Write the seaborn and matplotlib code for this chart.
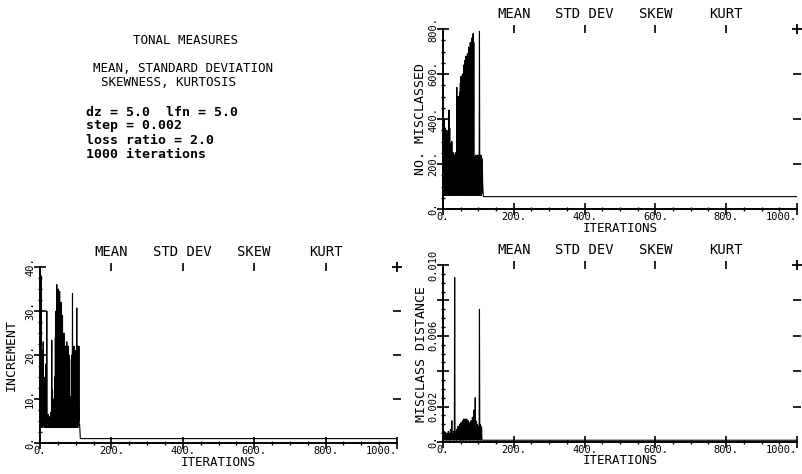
import numpy as np
import pandas as pd
import matplotlib
matplotlib.use("Agg")
import matplotlib.pyplot as plt
import seaborn as sns
from matplotlib.ticker import MultipleLocator

# ---- data: per-iteration values for the first ~110 iterations, then a flat tail ----
misclassed = [
    380, 70, 400, 60, 350, 90, 360, 60, 320, 75, 350, 60, 300, 80, 330, 60,
    440, 70, 360, 60, 290, 80, 260, 60, 300, 70, 240, 60, 250, 80, 230, 60,
    240, 70, 250, 60, 230, 80, 540, 60, 420, 70, 500, 60, 470, 90, 520, 60,
    560, 80, 590, 60, 540, 70, 600, 60, 580, 90, 640, 60, 660, 80, 620, 60,
    680, 70, 650, 60, 690, 90, 670, 60, 720, 80, 700, 60, 740, 70, 710, 60,
    760, 90, 730, 60, 780, 70, 740, 60, 230, 80, 220, 60, 240, 70, 230, 60,
    220, 80, 240, 60, 230, 70, 790, 60, 230, 80, 240, 60, 230, 70, 220, 120,
]
misclassed_tail = 55

increment = [
    39, 4, 38, 3.5, 20, 5, 21, 3.5, 23, 4, 15, 6, 8, 3.5, 12, 5,
    18, 3.5, 30, 4, 6, 3.5, 6.5, 5, 6, 3.5, 5.5, 4, 6, 3.5, 7, 4.5,
    23.4, 3.5, 12, 5, 8, 3.5, 10, 4, 15, 3.5, 24, 5, 30, 3.5, 36, 4,
    33, 3.5, 35, 5, 30, 3.5, 34.5, 4, 28, 3.5, 32, 5, 26, 3.5, 29, 4,
    22, 3.5, 25, 5, 21, 3.5, 22, 4, 20, 3.5, 23, 5, 21, 3.5, 22, 4,
    20, 3.5, 19, 5, 10.5, 3.5, 10, 4, 20, 3.5, 34, 5, 19, 3.5, 22, 4,
    20, 3.5, 21, 5, 19, 3.5, 30.7, 4, 22, 3.5, 21, 5, 22, 4, 4.2,
]
increment_tail = 1.0

distance = [
    0.00045, 0.0001, 0.0006, 0.00015, 0.0005, 0.0001, 0.00055, 0.0002,
    0.0004, 0.0001, 0.0005, 0.00015, 0.00035, 0.0001, 0.0006, 0.0002,
    0.0004, 0.0001, 0.0005, 0.00015, 0.0007, 0.0001, 0.0005, 0.0002,
    0.0012, 0.0001, 0.0004, 0.00015, 0.0005, 0.0001, 0.0006, 0.0002,
    0.0093, 0.0001, 0.0005, 0.00015, 0.0006, 0.0001, 0.0007, 0.0002,
    0.0008, 0.0001, 0.0009, 0.00015, 0.0008, 0.0001, 0.001, 0.0002,
    0.0009, 0.0001, 0.0011, 0.00015, 0.001, 0.0001, 0.0012, 0.0002,
    0.0011, 0.0001, 0.0013, 0.00015, 0.0012, 0.0001, 0.0013, 0.0002,
    0.0012, 0.0001, 0.0013, 0.00015, 0.0011, 0.0001, 0.0012, 0.0002,
    0.001, 0.0001, 0.0011, 0.00015, 0.0009, 0.0001, 0.0012, 0.0002,
    0.0011, 0.0001, 0.0014, 0.00015, 0.0012, 0.0001, 0.0018, 0.0002,
    0.0015, 0.0001, 0.0025, 0.00015, 0.0012, 0.0001, 0.0009, 0.0002,
    0.001, 0.0001, 0.0008, 0.00015, 0.0009, 0.0001, 0.0075, 0.0002,
    0.001, 0.0001, 0.0009, 0.00015, 0.0008, 0.0001,
]
distance_tail = 0.0001

last_iteration = 1000

x_ticks = [0, 200, 400, 600, 800, 1000]
x_tick_labels = ["0.", "200.", "400.", "600.", "800.", "1000."]
measure_ticks = [200, 400, 600, 800]
measure_labels = ["MEAN", "STD DEV", "SKEW", "KURT"]

misclassed_yticks = [0, 200, 400, 600, 800]
misclassed_ylabels = ["0.", "200.", "400.", "600.", "800."]
increment_yticks = [0, 10, 20, 30, 40]
increment_ylabels = ["0.", "10.", "20.", "30.", "40."]
distance_yticks = [0, 0.002, 0.004, 0.006, 0.008, 0.010]
distance_ylabels = ["0.", "0.002", "", "0.006", "", "0.010"]

header_lines = ["TONAL MEASURES", "MEAN, STANDARD DEVIATION", "SKEWNESS, KURTOSIS"]
param_lines = ["dz = 5.0  lfn = 5.0", "step = 0.002", "loss ratio = 2.0", "1000 iterations"]

# ---- style ----
sns.set_theme(style="white")
MONO = ["DejaVu Sans Mono"]
plt.rcParams["font.family"] = MONO
plt.rcParams["text.color"] = "black"
plt.rcParams["axes.labelcolor"] = "black"
plt.rcParams["xtick.color"] = "black"
plt.rcParams["ytick.color"] = "black"
# keep every zigzag vertex of the dense traces
plt.rcParams["path.simplify"] = False

W, H = 802, 474
fig = plt.figure(figsize=(W / 100, H / 100), dpi=100)
fig.patch.set_facecolor("white")


def px_rect(x0, x1, y_top, y_bot):
    return [x0 / W, 1 - y_bot / H, (x1 - x0) / W, (y_bot - y_top) / H]


def panel(rect, values, tail, yticks, ylabels, yminor, ylabel, ylab_dx):
    ax = fig.add_axes(rect)
    n = len(values)
    df = pd.DataFrame({
        "iteration": list(range(1, n + 1)) + [n + 2, last_iteration],
        "value": list(values) + [tail, tail],
    })
    sns.lineplot(data=df, x="iteration", y="value", ax=ax, color="black",
                 linewidth=0.8, estimator=None)
    ax.set_xlim(0, last_iteration)
    ax.set_ylim(yticks[0], yticks[-1])
    ax.set_facecolor("white")
    sns.despine(ax=ax)
    for side in ("left", "bottom"):
        ax.spines[side].set_color("black")
        ax.spines[side].set_linewidth(1.4)

    ax.set_xticks(x_ticks, x_tick_labels)
    ax.get_xticklabels()[-1].set_horizontalalignment("right")
    ax.xaxis.set_minor_locator(MultipleLocator(50))
    ax.set_yticks(yticks, ylabels, rotation=90, va="center")
    ax.yaxis.set_minor_locator(MultipleLocator(yminor))
    ax.tick_params(which="major", direction="inout", length=8, width=1.2,
                   labelsize=7.5, left=True, bottom=True)
    ax.tick_params(axis="x", which="major", pad=-1.5)
    ax.tick_params(axis="y", which="major", pad=-0.5)
    ax.tick_params(which="minor", direction="inout", length=3, width=1.0,
                   left=True, bottom=True)

    ax.set_xlabel("ITERATIONS", fontsize=9)
    h_px = rect[3] * H
    w_px = rect[2] * W
    ax.xaxis.set_label_coords(0.5, -12.5 / h_px)
    ax.set_ylabel(ylabel, fontsize=9.5)
    ax.yaxis.set_label_coords(-ylab_dx / w_px, 0.5)

    top = ax.secondary_xaxis("top")
    top.set_xticks(measure_ticks, measure_labels)
    top.spines["top"].set_visible(False)
    top.tick_params(direction="inout", length=6, width=1.2, pad=3,
                    labelsize=10, colors="black")

    # markers along the right edge at each y tick, '+' at the top corner
    ax.plot([last_iteration] * (len(yticks) - 2), yticks[1:-1], ls="none",
            marker="_", ms=6, mew=1.2, color="black", clip_on=False)
    ax.plot([last_iteration], [yticks[-1]], ls="none", marker="+", ms=7,
            mew=1.3, color="black", clip_on=False)
    return ax


panel(px_rect(443, 797, 29, 209), misclassed, misclassed_tail,
      misclassed_yticks, misclassed_ylabels, 50, "NO. MISCLASSED", 16)
panel(px_rect(40, 397, 267, 443), increment, increment_tail,
      increment_yticks, increment_ylabels, 2.5, "INCREMENT", 22)
panel(px_rect(443, 797, 265, 442), distance, distance_tail,
      distance_yticks, distance_ylabels, 0.0005, "MISCLASS DISTANCE", 15)

# ---- description block ----
fig.text(133 / W, 1 - 41 / H, header_lines[0], fontsize=9, va="center", ha="left")
fig.text(93 / W, 1 - 69 / H, header_lines[1], fontsize=9, va="center", ha="left")
fig.text(101 / W, 1 - 83 / H, header_lines[2], fontsize=9, va="center", ha="left")
for i, line in enumerate(param_lines):
    fig.text(86 / W, 1 - (112 + 14 * i) / H, line, fontsize=9.5,
             fontweight="bold", va="center", ha="left")

fig.savefig("out.png", dpi=100, facecolor="white")
